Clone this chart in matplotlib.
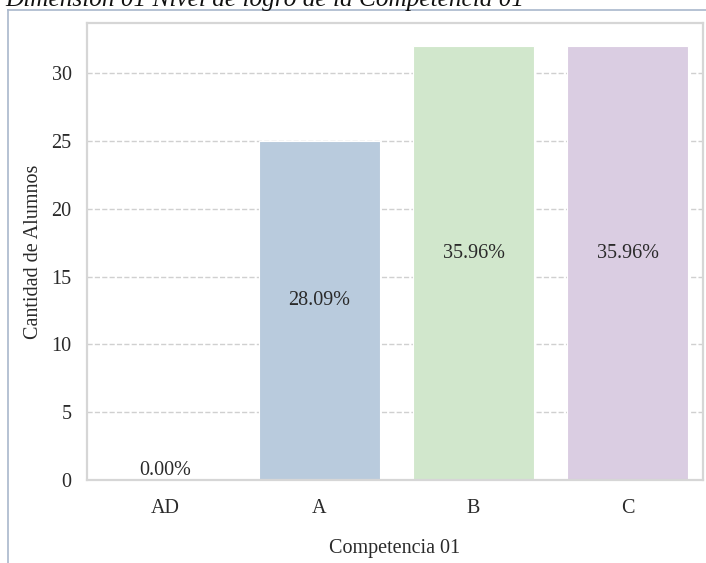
import matplotlib.pyplot as plt
from matplotlib.lines import Line2D

# datos
niveles = ['AD', 'A', 'B', 'C']
cantidad = [0, 25, 32, 32]
colores = ['#f7b9b3', '#b9cbdd', '#d1e7cc', '#dacde2']
total = sum(cantidad)

plt.rcParams['font.family'] = ['Liberation Serif', 'DejaVu Serif']

fig = plt.figure(figsize=(7.06, 5.63), dpi=100)
ax = fig.add_axes([87 / 706, 1 - 480 / 563, 616 / 706, 457 / 563])

x = range(len(niveles))
bars = ax.bar(x, cantidad, width=0.79, color=colores, edgecolor='white', linewidth=0.8, zorder=2)

# porcentajes en medio de cada barra
for xi, v in zip(x, cantidad):
    ax.text(xi, v / 2, '{:.2f}%'.format(v / total * 100), ha='center', va='bottom',
            fontsize=14.5, color='#2a2a2a', zorder=3)

ax.set_xlim(-0.51, 3.49)
ax.set_ylim(0, 33.7)
ax.set_yticks([0, 5, 10, 15, 20, 25, 30])
ax.set_xticks(list(x))
ax.set_xticklabels(niveles)
ax.tick_params(axis='both', length=0, labelsize=14.5, colors='#2a2a2a')
ax.tick_params(axis='x', pad=14)
ax.tick_params(axis='y', pad=11)
ax.yaxis.grid(True, linestyle='--', color='#d0d0d0', linewidth=1, zorder=0)
ax.set_axisbelow(True)
for s in ax.spines.values():
    s.set_color('#d6d6d6')
    s.set_linewidth(1.6)

ax.set_xlabel('Competencia 01', fontsize=14.5, labelpad=15, color='#2a2a2a')
ax.set_ylabel('Cantidad de Alumnos', fontsize=14.5, labelpad=6.5, color='#2a2a2a')

# titulo recortado y borde del documento
fig.text(5 / 706, 1 - 6 / 563, 'Dimensión 01 Nivel de logro de la Competencia 01',
         fontsize=18.2, style='italic', ha='left', va='baseline', color='#111111')
fig.add_artist(Line2D([8 / 706, 1], [1 - 10 / 563, 1 - 10 / 563], color='#a9b8cc', linewidth=1.2))
fig.add_artist(Line2D([8 / 706, 8 / 706], [0, 1 - 10 / 563], color='#a9b8cc', linewidth=1.2))

fig.savefig('out.png', dpi=100)
